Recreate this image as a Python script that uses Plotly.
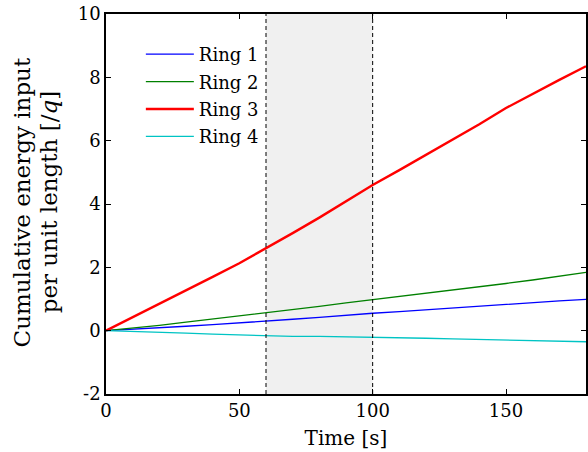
import plotly.graph_objects as go

time_s = [0, 10, 20, 30, 40, 50, 60, 70, 80, 90, 100, 110, 120, 130, 140, 150, 160, 170, 180]
ring1 = [0, 0.04, 0.09, 0.14, 0.19, 0.24, 0.29, 0.36, 0.42, 0.49, 0.55, 0.60, 0.66, 0.71, 0.77, 0.82, 0.88, 0.94, 0.99]
ring2 = [0, 0.08, 0.17, 0.27, 0.37, 0.46, 0.55, 0.66, 0.77, 0.88, 0.98, 1.08, 1.17, 1.27, 1.38, 1.49, 1.60, 1.72, 1.84]
ring3 = [0, 0.42, 0.85, 1.27, 1.70, 2.13, 2.60, 3.08, 3.57, 4.08, 4.60, 5.07, 5.55, 6.02, 6.52, 7.03, 7.48, 7.92, 8.35]
ring4 = [0, -0.02, -0.05, -0.08, -0.11, -0.14, -0.17, -0.18, -0.18, -0.19, -0.20, -0.22, -0.24, -0.26, -0.28, -0.30, -0.31, -0.33, -0.35]

names = ["Ring 1", "Ring 2", "Ring 3", "Ring 4"]
colors = ["#0000ff", "#008000", "#ff0000", "#00c4c4"]
widths = [1.3, 1.3, 2.4, 1.3]
window = [60, 100]
x_ticks = [0, 50, 100, 150]
y_ticks = [-2, 0, 2, 4, 6, 8, 10]
y_ticktext = ["-2", "0", "2", "4", "6", "8", "10"]

FONT = "DejaVu Serif"

fig = go.Figure()
for name, ys, c, w in zip(names, [ring1, ring2, ring3, ring4], colors, widths):
    fig.add_trace(go.Scatter(x=time_s, y=ys, mode="lines", name=name, legendgroup=name,
                             line=dict(color=c, width=w)))

fig.add_shape(type="rect", xref="x", yref="y", x0=window[0], x1=window[1], y0=-2, y1=10,
              fillcolor="#f0f0f0", line=dict(width=0), layer="below")
for xv in window:
    fig.add_shape(type="line", xref="x", yref="y", x0=xv, x1=xv, y0=-2, y1=10,
                  line=dict(color="black", width=1, dash="4px,3px"), layer="above")

fig.add_annotation(text="Cumulative energy input", xref="paper", yref="paper",
                   x=(22 - 106) / 482, y=0.505, textangle=-90, showarrow=False,
                   xanchor="center", yanchor="middle", font=dict(family=FONT, size=23, color="black"))
fig.add_annotation(text="per unit length [/<i>q</i>]", xref="paper", yref="paper",
                   x=(49 - 106) / 482, y=0.505, textangle=-90, showarrow=False,
                   xanchor="center", yanchor="middle", font=dict(family=FONT, size=23, color="black"))

fig.update_layout(
    width=588, height=452,
    margin=dict(l=106, r=0, t=14, b=58),
    paper_bgcolor="white", plot_bgcolor="white",
    font=dict(family=FONT, size=18, color="black"),
    showlegend=True,
    legend=dict(x=(141 - 106) / 482, y=1 - (36 - 14) / 380, xanchor="left", yanchor="top",
                bgcolor="rgba(0,0,0,0)", borderwidth=0, font=dict(family=FONT, size=18),
                itemwidth=48, traceorder="grouped", tracegroupgap=1),
    xaxis=dict(range=[0, 180], tickvals=x_ticks, ticks="inside", ticklen=5, tickcolor="black",
               showline=True, linecolor="black", linewidth=1.5, mirror="ticks",
               showgrid=False, zeroline=False, tickfont=dict(family=FONT, size=18),
               title=dict(text="Time [s]", font=dict(family=FONT, size=20), standoff=11)),
    yaxis=dict(range=[-2, 10], tickvals=y_ticks, ticktext=y_ticktext, ticks="inside", ticklen=5,
               tickcolor="black", showline=True, linecolor="black", linewidth=1.5, mirror="ticks",
               showgrid=False, zeroline=False, tickfont=dict(family=FONT, size=18)),
)

fig.write_html("out.html")
